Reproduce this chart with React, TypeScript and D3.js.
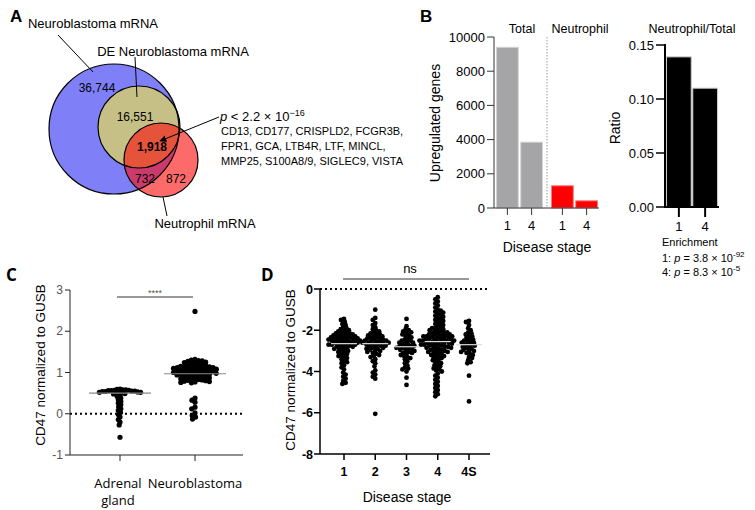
import React from 'react';
import * as d3 from 'd3';

// ---------- Panel A (Venn) ----------
const vennLabels = ['Neuroblastoma mRNA', 'DE Neuroblastoma mRNA', 'Neutrophil mRNA'];
const vennCounts = ['36,744', '16,551', '1,918', '732', '872'];
const geneLines = [
  'CD13, CD177, CRISPLD2, FCGR3B,',
  'FPR1, GCA, LTB4R, LTF, MINCL,',
  'MMP25, S100A8/9, SIGLEC9, VISTA',
];

// ---------- Panel B ----------
const bStages = ['1', '4'];
const totalUp = [9400, 3850];
const neutUp = [1300, 420];
const ratioVals = [0.139, 0.11];
const upTicks = [0, 2000, 4000, 6000, 8000, 10000];
const ratioTicks = [0, 0.05, 0.1, 0.15];

// ---------- Panel C ----------
const cGroups = ['Adrenal', 'Neuroblastoma'];
const adrenalVals = [0.6, 0.59, 0.58, 0.58, 0.57, 0.57, 0.56, 0.56, 0.55, 0.55, 0.54, 0.54, 0.53, 0.53, 0.52, 0.52,
  0.51, 0.5, 0.49, 0.48, 0.45, 0.42, 0.38, 0.34, 0.3, 0.26, 0.22, 0.17, 0.12, 0.08, 0.03, -0.02, -0.08, -0.14, -0.2,
  -0.27, -0.57];
const nbVals = [2.48, 1.32, 1.3, 1.29, 1.28, 1.27, 1.25, 1.24, 1.22, 1.2, 1.19, 1.18, 1.17, 1.16, 1.15, 1.15, 1.14, 1.13,
  1.12, 1.12, 1.11, 1.1, 1.1, 1.09, 1.08, 1.08, 1.07, 1.06, 1.05, 1.05, 1.04, 1.03, 1.02, 1.02, 1.01, 1.0, 1.0, 0.99,
  0.98, 0.98, 0.97, 0.96, 0.96, 0.95, 0.94, 0.93, 0.92, 0.91, 0.9, 0.89, 0.88, 0.87, 0.86, 0.85, 0.84, 0.83, 0.82, 0.81,
  0.8, 0.79, 0.78, 0.77, 0.76, 0.75, 0.38, 0.33, 0.28, 0.16, 0.12, 0.02, -0.04, -0.08, -0.13];
const cMedians = [0.5, 0.97];
const cTicks = [-1, 0, 1, 2, 3];

// ---------- Panel D ----------
const dStages = ['1', '2', '3', '4', '4S'];
const stage1 = [-1.45, -1.5, -1.6, -1.7, -1.75, -1.85, -1.9, -1.95, -2.0, -2.0, -2.05, -2.1, -2.1, -2.15, -2.15, -2.2,
  -2.2, -2.2, -2.25, -2.25, -2.3, -2.3, -2.3, -2.35, -2.35, -2.35, -2.4, -2.4, -2.4, -2.4, -2.45, -2.45, -2.45, -2.5,
  -2.5, -2.5, -2.5, -2.55, -2.55, -2.55, -2.6, -2.6, -2.6, -2.65, -2.65, -2.65, -2.7, -2.7, -2.7, -2.75, -2.75, -2.75,
  -2.8, -2.8, -2.85, -2.85, -2.9, -2.9, -2.95, -3.0, -3.0, -3.05, -3.1, -3.15, -3.2, -3.25, -3.3, -3.35, -3.4, -3.5,
  -3.55, -3.6, -3.7, -3.8, -3.9, -4.05, -4.15, -4.25, -4.35, -4.45, -4.55, -4.6];
const stage2 = [-1.0, -1.4, -1.5, -1.65, -1.75, -1.85, -1.95, -2.0, -2.05, -2.1, -2.15, -2.2, -2.2, -2.25, -2.3, -2.3,
  -2.35, -2.35, -2.4, -2.4, -2.45, -2.45, -2.5, -2.5, -2.5, -2.55, -2.55, -2.6, -2.6, -2.6, -2.65, -2.65, -2.7, -2.7,
  -2.7, -2.75, -2.75, -2.8, -2.8, -2.85, -2.85, -2.9, -2.9, -2.95, -3.0, -3.0, -3.05, -3.1, -3.15, -3.2, -3.25, -3.3,
  -3.4, -3.5, -3.6, -3.75, -3.95, -4.05, -4.15, -4.25, -4.35, -6.05];
const stage3 = [-1.45, -1.8, -1.95, -2.0, -2.05, -2.1, -2.15, -2.2, -2.25, -2.3, -2.35, -2.4, -2.45, -2.5, -2.5, -2.55,
  -2.6, -2.6, -2.65, -2.7, -2.7, -2.75, -2.75, -2.8, -2.8, -2.85, -2.85, -2.9, -2.9, -2.95, -3.0, -3.0, -3.05, -3.1,
  -3.1, -3.15, -3.2, -3.25, -3.3, -3.35, -3.4, -3.5, -3.6, -3.7, -3.8, -3.85, -3.9, -4.0, -4.3, -4.65];
const stage4 = [-0.4, -0.5, -0.6, -0.7, -0.8, -0.9, -1.0, -1.05, -1.1, -1.15, -1.2, -1.25, -1.3, -1.35, -1.4, -1.45,
  -1.5, -1.55, -1.6, -1.65, -1.7, -1.75, -1.8, -1.85, -1.9, -1.9, -1.95, -2.0, -2.0, -2.05, -2.05, -2.1, -2.1, -2.15,
  -2.15, -2.2, -2.2, -2.2, -2.25, -2.25, -2.25, -2.3, -2.3, -2.3, -2.35, -2.35, -2.35, -2.4, -2.4, -2.4, -2.45, -2.45,
  -2.45, -2.5, -2.5, -2.5, -2.5, -2.55, -2.55, -2.55, -2.6, -2.6, -2.6, -2.65, -2.65, -2.65, -2.7, -2.7, -2.7, -2.75,
  -2.75, -2.75, -2.8, -2.8, -2.8, -2.85, -2.85, -2.9, -2.9, -2.95, -2.95, -3.0, -3.0, -3.05, -3.05, -3.1, -3.1, -3.15,
  -3.2, -3.2, -3.25, -3.3, -3.3, -3.35, -3.4, -3.45, -3.5, -3.55, -3.6, -3.65, -3.7, -3.75, -3.8, -3.85, -3.9, -3.95,
  -4.0, -4.1, -4.2, -4.3, -4.4, -4.5, -4.6, -4.7, -4.8, -4.9, -5.0, -5.1, -5.2];
const stage4S = [-1.55, -1.6, -1.75, -1.9, -2.0, -2.1, -2.15, -2.2, -2.25, -2.3, -2.35, -2.4, -2.45, -2.5, -2.5, -2.55,
  -2.6, -2.6, -2.65, -2.7, -2.7, -2.75, -2.8, -2.8, -2.85, -2.9, -2.95, -3.0, -3.0, -3.05, -3.1, -3.15, -3.2, -3.3,
  -3.35, -3.45, -3.55, -3.6, -4.2, -5.45];
const dValues = [stage1, stage2, stage3, stage4, stage4S];
const dMedians = [-2.65, -2.65, -2.8, -2.55, -2.7];
const dTicks = [0, -2, -4, -6, -8];

const F = "'Liberation Sans', Arial, sans-serif";
const F2 = "'Open Sans', 'Noto Sans', sans-serif";

function swarm(values: number[], y: (v: number) => number, cx: number, minDist: number) {
  const pts = values.map((v) => ({ v, y: y(v), x: cx })).sort((a, b) => a.y - b.y);
  const placed: { x: number; y: number }[] = [];
  for (const p of pts) {
    const intervals: [number, number][] = [];
    for (const q of placed) {
      const dy = Math.abs(q.y - p.y);
      if (dy < minDist) {
        const dx = Math.sqrt(minDist * minDist - dy * dy);
        intervals.push([q.x - dx, q.x + dx]);
      }
    }
    const cands = [cx];
    intervals.forEach(([a, b]) => { cands.push(a, b); });
    cands.sort((a, b) => Math.abs(a - cx) - Math.abs(b - cx));
    let chosen = cx;
    for (const c of cands) {
      if (!intervals.some(([a, b]) => c > a + 1e-6 && c < b - 1e-6)) { chosen = c; break; }
    }
    p.x = chosen;
    placed.push({ x: chosen, y: p.y });
  }
  return pts;
}

function PanelA() {
  const blue = { cx: 114, cy: 129, r: 65 };
  const olive = { cx: 139, cy: 127, r: 41 };
  const red = { cx: 161, cy: 160, r: 37 };
  return (
    <g fontFamily={F}>
      <defs>
        <clipPath id="clipBlue"><circle cx={blue.cx} cy={blue.cy} r={blue.r} /></clipPath>
        <clipPath id="clipOlive"><circle cx={olive.cx} cy={olive.cy} r={olive.r} /></clipPath>
        <marker id="arrowA" viewBox="0 0 10 10" refX="9" refY="5" markerWidth="7" markerHeight="7" orient="auto">
          <path d="M0,0 L10,5 L0,10 z" fill="#000" />
        </marker>
      </defs>
      <text x={10} y={22} fontSize={17} fontWeight="bold">A</text>
      <circle cx={blue.cx} cy={blue.cy} r={blue.r} fill="#7f80f8" />
      <circle cx={olive.cx} cy={olive.cy} r={olive.r} fill="#c6c087" />
      <circle cx={red.cx} cy={red.cy} r={red.r} fill="#fc6a6a" />
      <circle cx={red.cx} cy={red.cy} r={red.r} fill="#cb3a6c" clipPath="url(#clipBlue)" />
      <circle cx={red.cx} cy={red.cy} r={red.r} fill="#e5533b" clipPath="url(#clipOlive)" />
      {[blue, olive, red].map((c, i) => (
        <circle key={i} cx={c.cx} cy={c.cy} r={c.r} fill="none" stroke="#000" strokeWidth={1.2} />
      ))}
      <line x1={58} y1={35} x2={93} y2={72} stroke="#000" strokeWidth={1} />
      <line x1={135} y1={57} x2={137} y2={97} stroke="#000" strokeWidth={1} />
      <line x1={163} y1={197} x2={167} y2={216} stroke="#000" strokeWidth={1} />
      <text x={93} y={28} fontSize={13} textAnchor="middle">{vennLabels[0]}</text>
      <text x={173} y={56} fontSize={13} textAnchor="middle">{vennLabels[1]}</text>
      <text x={205} y={228} fontSize={13} textAnchor="middle">{vennLabels[2]}</text>
      <text x={97} y={92} fontSize={12} textAnchor="middle">{vennCounts[0]}</text>
      <text x={135} y={121} fontSize={12} textAnchor="middle">{vennCounts[1]}</text>
      <text x={152} y={151} fontSize={12} fontWeight="bold" textAnchor="middle">{vennCounts[2]}</text>
      <text x={145} y={183} fontSize={12} textAnchor="middle">{vennCounts[3]}</text>
      <text x={176} y={183} fontSize={12} textAnchor="middle">{vennCounts[4]}</text>
      <line x1={219} y1={117} x2={160} y2={141} stroke="#000" strokeWidth={1} markerEnd="url(#arrowA)" />
      <text x={220} y={121} fontSize={13}>
        <tspan fontStyle="italic">p</tspan> &lt; 2.2 × 10<tspan dy={-5} fontSize={9}>−16</tspan>
      </text>
      {geneLines.map((g, i) => (
        <text key={i} x={221} y={135 + i * 15} fontSize={11}>{g}</text>
      ))}
    </g>
  );
}

function PanelB() {
  const y = d3.scaleLinear().domain([0, 10000]).range([208, 37]);
  const xT = d3.scaleBand().domain(bStages).range([496, 543]).paddingInner(0.1).paddingOuter(0.02);
  const xN = d3.scaleBand().domain(bStages).range([551, 598]).paddingInner(0.1).paddingOuter(0.02);
  const yR = d3.scaleLinear().domain([0, 0.15]).range([207, 45]);
  const xR = d3.scaleBand().domain(bStages).range([666, 718]).paddingInner(0.06).paddingOuter(0.02);
  const axL = 494;
  const axR = 665;
  return (
    <g fontFamily={F}>
      <text x={420} y={22} fontSize={17} fontWeight="bold">B</text>
      <text x={522} y={33} fontSize={12.5} textAnchor="middle">Total</text>
      <text x={580} y={33} fontSize={12.5} textAnchor="middle">Neutrophil</text>
      <line x1={547} x2={547} y1={37} y2={208} stroke="#999" strokeDasharray="1.5,1.5" strokeWidth={1} />
      {bStages.map((s, i) => (
        <rect key={'t' + s} x={xT(s)} y={y(totalUp[i])} width={xT.bandwidth()} height={y(0) - y(totalUp[i])}
          fill="#a5a5a8" stroke="#d4d4d4" strokeWidth={1} />
      ))}
      {bStages.map((s, i) => (
        <rect key={'n' + s} x={xN(s)} y={y(neutUp[i])} width={xN.bandwidth()} height={y(0) - y(neutUp[i])}
          fill="#ff0000" stroke="#ff7a7a" strokeWidth={1} />
      ))}
      <line x1={axL} x2={axL} y1={y(10000)} y2={y(0)} stroke="#333" />
      <line x1={axL} x2={599} y1={y(0)} y2={y(0)} stroke="#333" />
      {upTicks.map((t) => (
        <g key={t}>
          <line x1={axL - 7} x2={axL} y1={y(t)} y2={y(t)} stroke="#333" />
          <text x={axL - 9} y={y(t) + 4.5} fontSize={13} textAnchor="end">{t}</text>
        </g>
      ))}
      {bStages.map((s) => (
        <g key={'xt' + s}>
          <line x1={xT(s)! + xT.bandwidth() / 2} x2={xT(s)! + xT.bandwidth() / 2} y1={208} y2={215} stroke="#333" />
          <text x={xT(s)! + xT.bandwidth() / 2} y={230} fontSize={13} textAnchor="middle">{s}</text>
          <line x1={xN(s)! + xN.bandwidth() / 2} x2={xN(s)! + xN.bandwidth() / 2} y1={208} y2={215} stroke="#333" />
          <text x={xN(s)! + xN.bandwidth() / 2} y={230} fontSize={13} textAnchor="middle">{s}</text>
        </g>
      ))}
      <text transform="translate(440,123) rotate(-90)" fontSize={14} textAnchor="middle">Upregulated genes</text>
      <text x={547} y={252} fontSize={14} textAnchor="middle">Disease stage</text>
      <text x={692} y={33} fontSize={12.5} textAnchor="middle">Neutrophil/Total</text>
      {bStages.map((s, i) => (
        <rect key={'r' + s} x={xR(s)} y={yR(ratioVals[i])} width={xR.bandwidth()} height={yR(0) - yR(ratioVals[i])}
          fill="#000" stroke="#c8c8c8" strokeWidth={1} />
      ))}
      <line x1={axR} x2={axR} y1={yR(0.15) - 1} y2={yR(0) + 1} stroke="#000" strokeWidth={2} />
      <line x1={axR - 1} x2={719} y1={yR(0)} y2={yR(0)} stroke="#000" strokeWidth={2} />
      {ratioTicks.map((t) => (
        <g key={t}>
          <line x1={axR - 9} x2={axR} y1={yR(t)} y2={yR(t)} stroke="#000" strokeWidth={1.5} />
          <text x={axR - 11} y={yR(t) + 4.5} fontSize={13} textAnchor="end">{t.toFixed(2)}</text>
        </g>
      ))}
      {bStages.map((s) => (
        <g key={'rt' + s}>
          <line x1={xR(s)! + xR.bandwidth() / 2} x2={xR(s)! + xR.bandwidth() / 2} y1={207} y2={217} stroke="#000" strokeWidth={2} />
          <text x={xR(s)! + xR.bandwidth() / 2} y={231} fontSize={13} textAnchor="middle">{s}</text>
        </g>
      ))}
      <text transform="translate(620,128) rotate(-90)" fontSize={14} textAnchor="middle">Ratio</text>
      <text x={662} y={246} fontSize={11}>Enrichment</text>
      <text x={662} y={262} fontSize={11}>
        1: <tspan fontStyle="italic">p</tspan> = 3.8 × 10<tspan dy={-5} fontSize={8}>-92</tspan>
      </text>
      <text x={662} y={276} fontSize={11}>
        4: <tspan fontStyle="italic">p</tspan> = 8.3 × 10<tspan dy={-5} fontSize={8}>-5</tspan>
      </text>
    </g>
  );
}

function PanelC() {
  const y = d3.scaleLinear().domain([-1, 3]).range([455, 290]);
  const x = d3.scalePoint().domain(cGroups).range([120, 195]);
  const groups = [adrenalVals, nbVals];
  const ax = 70;
  return (
    <g fontFamily={F}>
      <text x={6} y={281} fontSize={17} fontWeight="bold" fontFamily={F2}>C</text>
      <line x1={ax} x2={243} y1={y(0)} y2={y(0)} stroke="#000" strokeWidth={2} strokeDasharray="2,3" />
      {groups.map((vals, gi) => {
        const pts = swarm(vals, y, x(cGroups[gi])!, gi === 0 ? 3.0 : 3.7);
        return pts.map((p, i) => <circle key={gi + '-' + i} cx={p.x} cy={p.y} r={2.6} fill="#000" />);
      })}
      {cMedians.map((m, i) => (
        <line key={i} x1={x(cGroups[i])! - 31} x2={x(cGroups[i])! + 31} y1={y(m)} y2={y(m)} stroke="#888" strokeWidth={1.2} />
      ))}
      <line x1={ax} x2={ax} y1={y(3)} y2={y(-1)} stroke="#222" />
      <line x1={ax} x2={243} y1={y(-1)} y2={y(-1)} stroke="#222" />
      {cTicks.map((t) => (
        <g key={t}>
          <line x1={ax - 5} x2={ax} y1={y(t)} y2={y(t)} stroke="#222" />
          <text x={ax - 7} y={y(t) + 4} fontSize={12} fill="#555" textAnchor="end">{t}</text>
        </g>
      ))}
      {cGroups.map((g) => (
        <line key={g} x1={x(g)} x2={x(g)} y1={y(-1)} y2={y(-1) + 6} stroke="#222" />
      ))}
      <text x={118} y={488} fontSize={13} textAnchor="middle" fontFamily={F2}>Adrenal</text>
      <text x={118} y={505} fontSize={13} textAnchor="middle" fontFamily={F2}>gland</text>
      <text x={195} y={488} fontSize={13} textAnchor="middle" fontFamily={F2}>Neuroblastoma</text>
      <line x1={117} x2={193} y1={297} y2={297} stroke="#333" />
      <text x={155} y={296} fontSize={9} fill="#555" textAnchor="middle">****</text>
      <text transform="translate(45,365) rotate(-90)" fontSize={13.5} textAnchor="middle">CD47 normalized to GUSB</text>
    </g>
  );
}

function PanelD() {
  const y = d3.scaleLinear().domain([-8, 0]).range([454, 289]);
  const x = d3.scalePoint().domain(dStages).range([344, 469]);
  const ax = 320;
  return (
    <g fontFamily={F}>
      <text x={261} y={281} fontSize={17} fontWeight="bold" fontFamily={F2}>D</text>
      <line x1={ax} x2={490} y1={y(0)} y2={y(0)} stroke="#000" strokeWidth={2} strokeDasharray="2,3" />
      {dValues.map((vals, gi) => {
        const pts = swarm(vals, y, x(dStages[gi])!, 3.2);
        return pts.map((p, i) => <circle key={gi + '-' + i} cx={p.x} cy={p.y} r={2.4} fill="#000" />);
      })}
      {dMedians.map((m, i) => (
        <line key={i} x1={x(dStages[i])! - 13} x2={x(dStages[i])! + 13} y1={y(m)} y2={y(m)} stroke="#ddd" strokeWidth={1.2} />
      ))}
      <line x1={ax} x2={ax} y1={y(0)} y2={y(-8)} stroke="#000" strokeWidth={1.5} />
      <line x1={ax} x2={490} y1={y(-8)} y2={y(-8)} stroke="#000" strokeWidth={1.5} />
      {dTicks.map((t) => (
        <g key={t}>
          <line x1={ax - 6} x2={ax} y1={y(t)} y2={y(t)} stroke="#000" strokeWidth={1.5} />
          <text x={ax - 7} y={y(t) + 4.5} fontSize={12.5} fontWeight="bold" textAnchor="end">{t === 0 ? '0' : '-' + Math.abs(t)}</text>
        </g>
      ))}
      {dStages.map((s) => (
        <g key={s}>
          <line x1={x(s)} x2={x(s)} y1={y(-8)} y2={y(-8) + 6} stroke="#000" strokeWidth={1.5} />
          <text x={x(s)} y={476} fontSize={12.5} fontWeight="bold" textAnchor="middle">{s}</text>
        </g>
      ))}
      <text x={407} y={502} fontSize={14} textAnchor="middle">Disease stage</text>
      <line x1={343} x2={469} y1={279} y2={279} stroke="#333" />
      <text x={410} y={273} fontSize={13} textAnchor="middle">ns</text>
      <text transform="translate(295,370) rotate(-90)" fontSize={13.5} textAnchor="middle">CD47 normalized to GUSB</text>
    </g>
  );
}

export default function App() {
  return (
    <svg width={755} height={510} style={{ position: 'absolute', left: 0, top: 0, background: '#fff' }}>
      <rect width={755} height={510} fill="#fff" />
      <PanelA />
      <PanelB />
      <PanelC />
      <PanelD />
    </svg>
  );
}
